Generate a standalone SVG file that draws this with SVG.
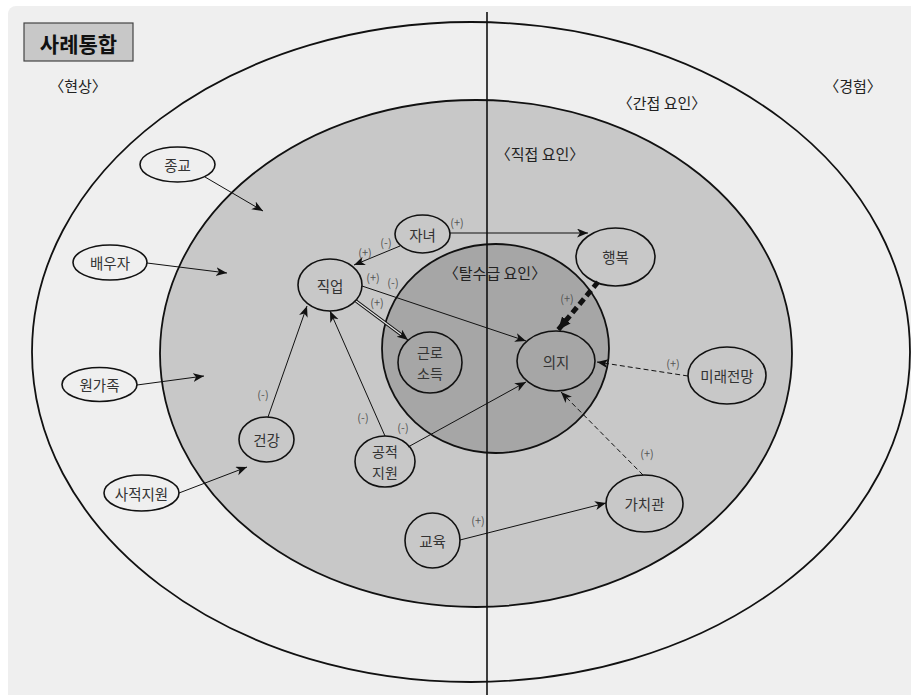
<svg xmlns="http://www.w3.org/2000/svg" width="911" height="695" viewBox="0 0 911 695">
  <style>
    .zone { stroke: #111; stroke-width: 1.8; }
    .node ellipse { fill: none; stroke: #111; stroke-width: 1.6; }
    .lbl { font-family: "Noto Sans CJK KR", "Noto Sans", sans-serif; font-size: 14.5px; fill: #333; text-anchor: middle; dominant-baseline: central; }
    .sec { font-family: "Noto Sans CJK KR", "Noto Sans", sans-serif; font-size: 15px; fill: #222; text-anchor: middle; dominant-baseline: central; }
    .sign { font-family: "Noto Sans CJK KR", "Noto Sans", sans-serif; font-size: 11px; fill: #555; text-anchor: middle; dominant-baseline: central; }
    .ln { fill: none; stroke: #111; stroke-width: 1; marker-end: url(#arr); }
    .dash { fill: none; stroke: #111; stroke-width: 1; stroke-dasharray: 5 3; marker-end: url(#arr); }
  </style>
  <defs>
    <marker id="arr" markerUnits="userSpaceOnUse" markerWidth="12" markerHeight="10" refX="11" refY="4.5" orient="auto">
      <path d="M0,0 L11,4.5 L0,9 L3,4.5 Z" fill="#111"/>
    </marker>
    <marker id="arrBig" markerUnits="userSpaceOnUse" markerWidth="14" markerHeight="12" refX="13" refY="5.5" orient="auto">
      <path d="M0,0 L13,5.5 L0,11 Z" fill="#111"/>
    </marker>
  </defs>

  <!-- panel -->
  <rect x="8" y="6" width="910" height="700" rx="8" fill="#efefef"/>

  <!-- zones -->
  <ellipse class="zone" cx="471" cy="352" rx="439" ry="330" fill="#efefef"/>
  <ellipse class="zone" cx="476" cy="353.5" rx="316" ry="253.5" fill="#c8c8c8"/>
  <ellipse class="zone" cx="495.5" cy="348.5" rx="113.5" ry="104.5" fill="#a6a6a6"/>
  <line x1="487" y1="12" x2="487" y2="695" stroke="#111" stroke-width="1.6"/>

  <!-- title -->
  <rect x="24" y="23" width="109" height="38" fill="#c8c8c8" stroke="#444" stroke-width="1.2"/>
  <text x="78.5" y="43" class="lbl" style="font-size:21px;font-weight:bold;fill:#111">사례통합</text>

  <!-- section labels -->
  <text class="sec" x="78" y="85">〈현상〉</text>
  <text class="sec" x="853" y="85">〈경험〉</text>
  <text class="sec" x="662" y="102">〈간접 요인〉</text>
  <text class="sec" x="540" y="153">〈직접 요인〉</text>
  <text class="sec" x="495" y="272">〈탈수급 요인〉</text>

  <!-- connectors -->
  <g id="connectors">
    <path class="ln" d="M205,177 L263,211"/>
    <path class="ln" d="M147,263 L227,273"/>
    <path class="ln" d="M137,385 L204,376"/>
    <path class="ln" d="M179,493 L247,467"/>
    <path class="ln" d="M268,417 L307,306"/>
    <path class="ln" d="M385,436 L330,311"/>
    <path class="ln" d="M408,447 L526,382"/>
    <path class="ln" d="M400,246 L354,265"/>
    <path class="ln" d="M450,233 L588,233"/>
    <path class="ln" d="M362,286 L526,341"/>
    <path class="ln" d="M460,540 L606,503"/>
    <!-- double line to 근로소득 -->
    <path d="M356,301 L403,336" fill="none" stroke="#111" stroke-width="3.4"/>
    <path d="M356,301 L403,336" fill="none" stroke="#e2e2e2" stroke-width="1.3"/>
    <path d="M401,334.5 L408,340" fill="none" stroke="#111" stroke-width="1" marker-end="url(#arr)"/>
    <!-- dashed influences on 의지 -->
    <path d="M598,282 L558,330" fill="none" stroke="#111" stroke-width="5" stroke-dasharray="7 4" marker-end="url(#arrBig)"/>
    <path class="dash" d="M688,376 L597,362"/>
    <path class="dash" d="M643,475 L561,392"/>
  </g>

  <!-- signs -->
  <g id="signs">
    <text class="sign" x="365" y="252">(+)</text>
    <text class="sign" x="386" y="242">(-)</text>
    <text class="sign" x="457" y="222">(+)</text>
    <text class="sign" x="373" y="277">(+)</text>
    <text class="sign" x="393" y="282">(-)</text>
    <text class="sign" x="377" y="302">(+)</text>
    <text class="sign" x="263" y="394">(-)</text>
    <text class="sign" x="363" y="417">(-)</text>
    <text class="sign" x="403" y="427">(-)</text>
    <text class="sign" x="567" y="298">(+)</text>
    <text class="sign" x="673" y="363">(+)</text>
    <text class="sign" x="647" y="453">(+)</text>
    <text class="sign" x="478" y="520">(+)</text>
  </g>

  <!-- nodes -->
  <g id="n-religion" class="node"><ellipse cx="177.5" cy="164.5" rx="37.5" ry="17.5"/><text class="lbl" x="177.5" y="164.5">종교</text></g>
  <g id="n-spouse" class="node"><ellipse cx="110" cy="262.5" rx="37" ry="17.5"/><text class="lbl" x="110" y="262.5">배우자</text></g>
  <g id="n-family" class="node"><ellipse cx="99.5" cy="384.5" rx="37.5" ry="17"/><text class="lbl" x="99.5" y="384.5">원가족</text></g>
  <g id="n-private" class="node"><ellipse cx="141.5" cy="493" rx="37.5" ry="18"/><text class="lbl" x="141.5" y="493">사적지원</text></g>
  <g id="n-children" class="node"><ellipse cx="422.5" cy="234" rx="27.5" ry="19"/><text class="lbl" x="422.5" y="234">자녀</text></g>
  <g id="n-job" class="node"><ellipse cx="330" cy="285" rx="32" ry="26"/><text class="lbl" x="330" y="285">직업</text></g>
  <g id="n-health" class="node"><ellipse cx="266.5" cy="439.5" rx="27.5" ry="22.5"/><text class="lbl" x="266.5" y="439.5">건강</text></g>
  <g id="n-public" class="node"><ellipse cx="385" cy="461.5" rx="30" ry="25.5"/><text class="lbl" x="385" y="451" style="font-size:14px">공적</text><text class="lbl" x="385" y="472" style="font-size:14px">지원</text></g>
  <g id="n-income" class="node"><ellipse cx="430" cy="362.5" rx="32" ry="30.5"/><text class="lbl" x="430" y="352" style="font-size:14px">근로</text><text class="lbl" x="430" y="373" style="font-size:14px">소득</text></g>
  <g id="n-will" class="node"><ellipse cx="556" cy="361" rx="39" ry="30"/><text class="lbl" x="556" y="361">의지</text></g>
  <g id="n-happiness" class="node"><ellipse cx="615.5" cy="257" rx="39.5" ry="29"/><text class="lbl" x="615.5" y="256">행복</text></g>
  <g id="n-outlook" class="node"><ellipse cx="727" cy="375.5" rx="39" ry="28.5"/><text class="lbl" x="727" y="375.5">미래전망</text></g>
  <g id="n-values" class="node"><ellipse cx="644.5" cy="503.5" rx="38.5" ry="28.5"/><text class="lbl" x="644.5" y="503.5">가치관</text></g>
  <g id="n-education" class="node"><ellipse cx="432.5" cy="540.5" rx="27.5" ry="27.5"/><text class="lbl" x="432.5" y="540.5">교육</text></g>
</svg>
